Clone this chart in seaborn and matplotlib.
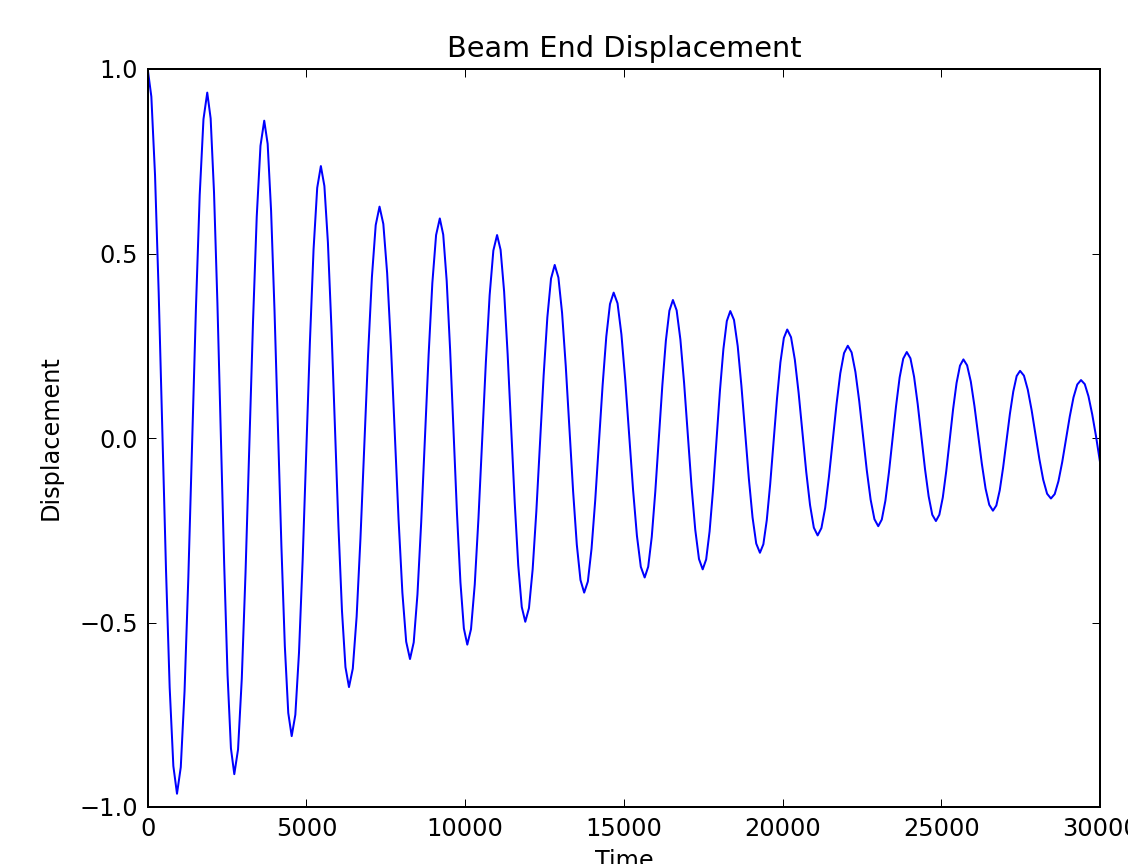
import matplotlib
matplotlib.use("Agg")
import matplotlib.pyplot as plt
import seaborn as sns

# Time samples (one row per half cycle)
time = [
    0, 115, 231, 346, 462, 577, 692, 808,
    923, 1042, 1161, 1280, 1400, 1519, 1638, 1757,
    1876, 1983, 2089, 2196, 2302, 2409, 2515, 2622,
    2728, 2846, 2964, 3082, 3200, 3317, 3435, 3553,
    3671, 3779, 3887, 3995, 4104, 4212, 4320, 4428,
    4536, 4651, 4766, 4881, 4996, 5110, 5225, 5340,
    5455, 5566, 5677, 5787, 5898, 6009, 6120, 6230,
    6341, 6461, 6582, 6702, 6822, 6942, 7063, 7183,
    7303, 7423, 7543, 7663, 7783, 7903, 8023, 8143,
    8263, 8380, 8498, 8615, 8733, 8850, 8967, 9085,
    9202, 9310, 9419, 9527, 9635, 9743, 9852, 9960,
    10068, 10185, 10303, 10420, 10537, 10654, 10772, 10889,
    11006, 11117, 11228, 11339, 11451, 11562, 11673, 11784,
    11895, 12011, 12127, 12243, 12359, 12474, 12590, 12706,
    12822, 12938, 13054, 13170, 13286, 13402, 13518, 13634,
    13750, 13866, 13982, 14098, 14215, 14331, 14447, 14563,
    14679, 14801, 14923, 15045, 15168, 15290, 15412, 15534,
    15656, 15767, 15879, 15990, 16101, 16212, 16324, 16435,
    16546, 16663, 16781, 16898, 17015, 17132, 17250, 17367,
    17484, 17593, 17701, 17810, 17919, 18027, 18136, 18244,
    18353, 18470, 18587, 18703, 18820, 18937, 19054, 19170,
    19287, 19395, 19502, 19610, 19717, 19825, 19932, 20040,
    20147, 20267, 20387, 20506, 20626, 20746, 20866, 20985,
    21105, 21224, 21343, 21461, 21580, 21699, 21818, 21936,
    22055, 22175, 22295, 22415, 22535, 22654, 22774, 22894,
    23014, 23126, 23239, 23351, 23464, 23576, 23688, 23801,
    23913, 24028, 24143, 24257, 24372, 24487, 24602, 24716,
    24831, 24939, 25048, 25156, 25264, 25372, 25481, 25589,
    25697, 25813, 25930, 26046, 26162, 26278, 26395, 26511,
    26627, 26734, 26841, 26948, 27055, 27161, 27268, 27375,
    27482, 27604, 27725, 27847, 27968, 28090, 28211, 28333,
    28454, 28573, 28691, 28810, 28928, 29047, 29165, 29284,
    29402, 29520, 29637, 29755, 29872, 30000,
]

# Displacement values
displacement = [
    1.000, 0.925, 0.712, 0.394, 0.018, -0.358, -0.676, -0.889,
    -0.964, -0.892, -0.686, -0.378, -0.014, 0.350, 0.658, 0.864,
    0.936, 0.866, 0.666, 0.366, 0.013, -0.341, -0.641, -0.841,
    -0.911, -0.844, -0.652, -0.365, -0.026, 0.313, 0.600, 0.792,
    0.860, 0.797, 0.616, 0.345, 0.026, -0.293, -0.564, -0.745,
    -0.808, -0.750, -0.582, -0.332, -0.036, 0.260, 0.511, 0.678,
    0.737, 0.683, 0.530, 0.301, 0.031, -0.239, -0.468, -0.621,
    -0.675, -0.625, -0.484, -0.273, -0.024, 0.225, 0.436, 0.577,
    0.627, 0.580, 0.447, 0.249, 0.014, -0.221, -0.419, -0.552,
    -0.599, -0.554, -0.424, -0.230, -0.002, 0.226, 0.420, 0.550,
    0.595, 0.551, 0.426, 0.239, 0.018, -0.204, -0.391, -0.516,
    -0.560, -0.518, -0.397, -0.217, -0.005, 0.207, 0.387, 0.508,
    0.550, 0.510, 0.397, 0.227, 0.026, -0.175, -0.345, -0.458,
    -0.498, -0.461, -0.356, -0.199, -0.015, 0.171, 0.327, 0.432,
    0.469, 0.435, 0.339, 0.195, 0.025, -0.145, -0.289, -0.385,
    -0.419, -0.389, -0.300, -0.169, -0.013, 0.143, 0.275, 0.363,
    0.394, 0.365, 0.281, 0.156, 0.008, -0.140, -0.265, -0.349,
    -0.378, -0.349, -0.268, -0.146, -0.002, 0.142, 0.264, 0.345,
    0.374, 0.346, 0.267, 0.149, 0.009, -0.131, -0.249, -0.328,
    -0.356, -0.329, -0.253, -0.140, -0.006, 0.128, 0.241, 0.317,
    0.344, 0.320, 0.249, 0.142, 0.017, -0.109, -0.215, -0.286,
    -0.311, -0.288, -0.223, -0.125, -0.009, 0.107, 0.205, 0.271,
    0.294, 0.273, 0.212, 0.122, 0.015, -0.092, -0.182, -0.243,
    -0.264, -0.244, -0.189, -0.105, -0.007, 0.091, 0.175, 0.230,
    0.250, 0.232, 0.179, 0.100, 0.006, -0.088, -0.167, -0.220,
    -0.239, -0.221, -0.170, -0.093, -0.003, 0.087, 0.164, 0.215,
    0.233, 0.216, 0.166, 0.092, 0.004, -0.084, -0.158, -0.208,
    -0.225, -0.208, -0.161, -0.090, -0.006, 0.078, 0.149, 0.196,
    0.213, 0.197, 0.153, 0.086, 0.008, -0.070, -0.137, -0.181,
    -0.197, -0.183, -0.142, -0.080, -0.008, 0.065, 0.126, 0.168,
    0.182, 0.169, 0.131, 0.075, 0.009, -0.057, -0.113, -0.151,
    -0.164, -0.152, -0.117, -0.065, -0.004, 0.058, 0.110, 0.145,
    0.157, 0.146, 0.113, 0.064, 0.006, -0.065,
]

x_ticks = [0, 5000, 10000, 15000, 20000, 25000, 30000]
y_ticks = [-1.0, -0.5, 0.0, 0.5, 1.0]
x_tick_labels = ["0", "5000", "10000", "15000", "20000", "25000", "30000"]
y_tick_labels = ["\u22121.0", "\u22120.5", "0.0", "0.5", "1.0"]

sns.set_style("white")
plt.rcParams["font.family"] = ["DejaVu Sans"]
plt.rcParams["text.color"] = "black"
plt.rcParams["axes.labelcolor"] = "black"

fig = plt.figure(figsize=(1128 / 144, 864 / 144), dpi=144)
ax = fig.add_axes([147.7 / 1128, 1 - 807 / 864, (1100 - 147.7) / 1128, (807 - 69) / 864])

sns.lineplot(x=time, y=displacement, ax=ax, color=(0, 0, 1), linewidth=1.0,
             estimator=None, sort=False)

ax.set_xlim(0, 30000)
ax.set_ylim(-1.0, 1.0)
ax.set_xticks(x_ticks)
ax.set_xticklabels(x_tick_labels)
ax.set_yticks(y_ticks)
ax.set_yticklabels(y_tick_labels)
ax.tick_params(direction="in", length=4, width=0.5, colors="black",
               labelsize=12, top=True, right=True, bottom=True, left=True, pad=5)
for s in ax.spines.values():
    s.set_visible(True)
    s.set_color("black")
    s.set_linewidth(1.0)

ax.set_title("Beam End Displacement", fontsize=14.4, pad=6, color="black")
ax.set_xlabel("Time", fontsize=12, color="black")
ax.set_ylabel("Displacement", fontsize=12, color="black", labelpad=8)

fig.savefig("out.png", dpi=144, facecolor="white")
